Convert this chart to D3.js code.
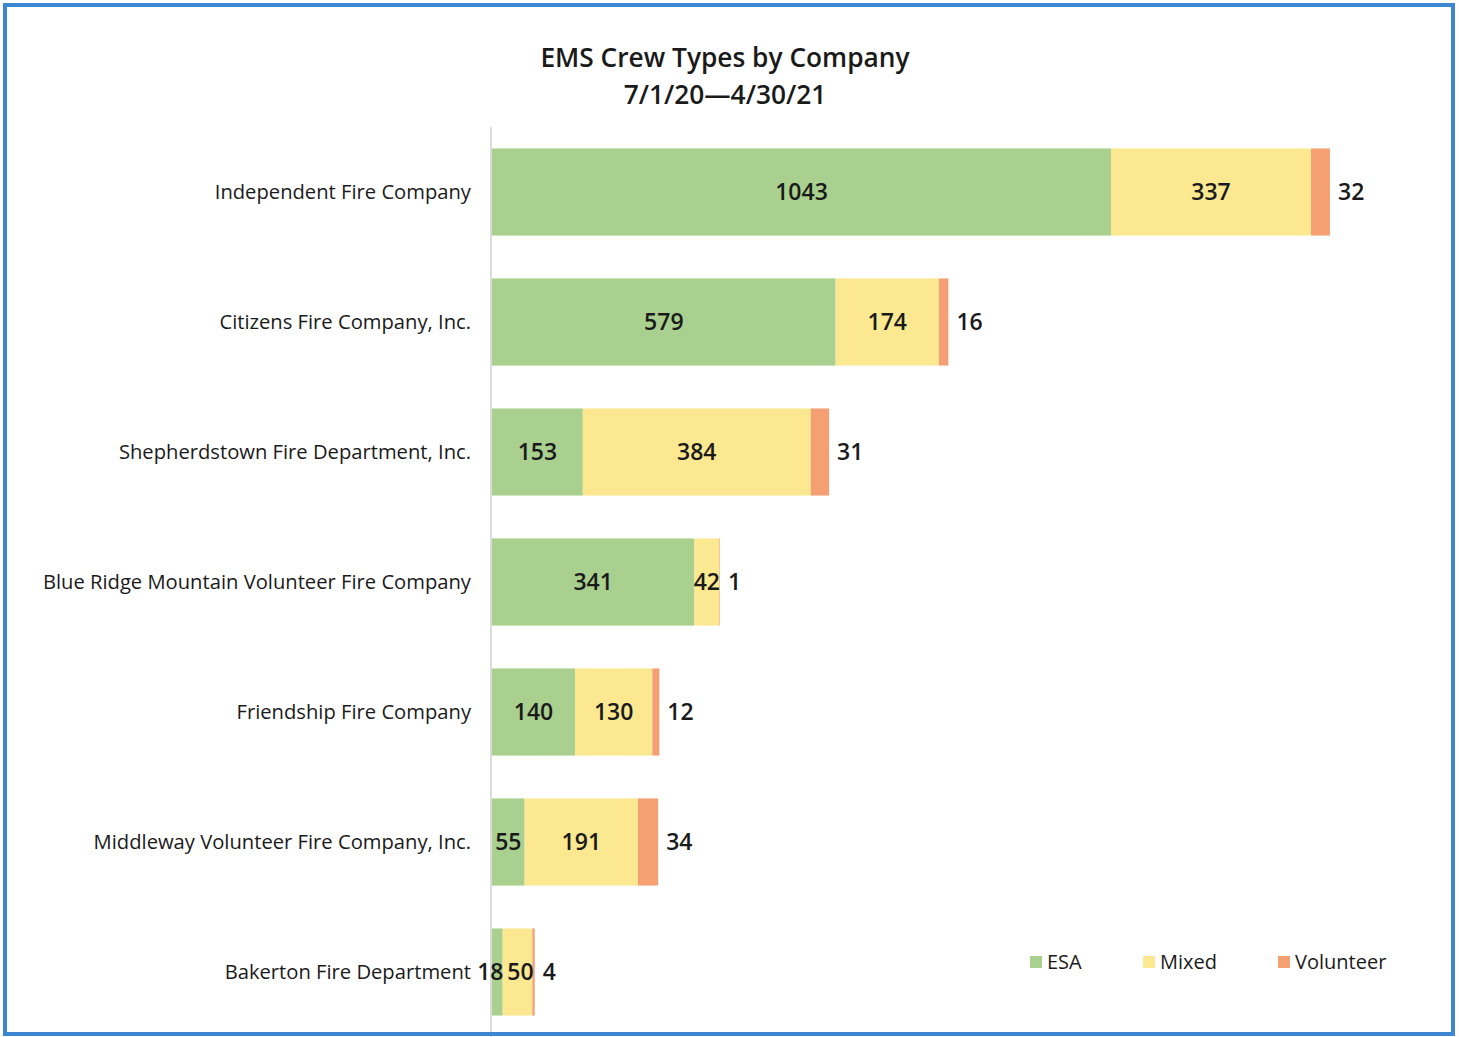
<!DOCTYPE html>
<html>
<head>
<meta charset="utf-8">
<script src="https://cdn.jsdelivr.net/npm/d3@7"></script>
<style>
  html, body { margin: 0; padding: 0; background: #fff; }
  svg { display: block; font-family: "Open Sans", "Noto Sans", sans-serif; }
</style>
</head>
<body>
<script>
// Data
const companies = [
  "Independent Fire Company",
  "Citizens Fire Company, Inc.",
  "Shepherdstown Fire Department, Inc.",
  "Blue Ridge Mountain Volunteer Fire Company",
  "Friendship Fire Company",
  "Middleway Volunteer Fire Company, Inc.",
  "Bakerton Fire Department"
];
const seriesNames = ["ESA", "Mixed", "Volunteer"];
const esa = [1043, 579, 153, 341, 140, 55, 18];
const mixed = [337, 174, 384, 42, 130, 191, 50];
const volunteer = [32, 16, 31, 1, 12, 34, 4];
const colors = ["#a9d08e", "#fbe890", "#f4a072"];

const width = 1459;
const height = 1037;

const rows = companies.map((c, i) => ({ company: c, ESA: esa[i], Mixed: mixed[i], Volunteer: volunteer[i] }));
const stacked = d3.stack().keys(seriesNames)(rows);

const x = d3.scaleLinear().domain([0, 1412]).range([492, 1330]);
const y = d3.scaleBand().domain(companies).range([127, 1037]).paddingInner(0.33).paddingOuter(0.165);
const color = d3.scaleOrdinal(seriesNames, colors);

const svg = d3.select("body").append("svg")
  .attr("width", width)
  .attr("height", height)
  .attr("viewBox", [0, 0, width, height]);

// Title
const title = svg.append("text")
  .attr("text-anchor", "middle")
  .attr("font-size", 26.3)
  .attr("font-weight", 600)
  .attr("fill", "#1a1a1a");
title.append("tspan").attr("x", 725).attr("y", 67).text("EMS Crew Types by Company");
title.append("tspan").attr("x", 725).attr("y", 104).text("7/1/20\u20144/30/21");

// Bars
const layer = svg.append("g")
  .selectAll("g")
  .data(stacked)
  .join("g")
  .attr("fill", d => color(d.key));

layer.selectAll("rect")
  .data(d => d)
  .join("rect")
  .attr("x", d => x(d[0]))
  .attr("y", d => y(d.data.company))
  .attr("width", d => x(d[1]) - x(d[0]))
  .attr("height", y.bandwidth());

// Vertical axis line
svg.append("line")
  .attr("x1", 491).attr("x2", 491)
  .attr("y1", 127).attr("y2", height)
  .attr("stroke", "#c4c4c4")
  .attr("stroke-width", 1.2);

// Category labels
svg.append("g")
  .selectAll("text")
  .data(companies)
  .join("text")
  .attr("x", 471)
  .attr("y", d => y(d) + y.bandwidth() / 2)
  .attr("dy", "0.35em")
  .attr("text-anchor", "end")
  .attr("font-size", 20.2)
  .attr("fill", "#1a1a1a")
  .text(d => d);

// Value labels: ESA and Mixed centred, Volunteer outside the bar end
const labels = svg.append("g")
  .attr("font-size", 23)
  .attr("font-weight", 600)
  .attr("fill", "#1a1a1a");

const tinyEsa = d => x(d.data.ESA) - x(0) < 15;

stacked.forEach(s => {
  labels.selectAll(null)
    .data(s)
    .join("text")
    .attr("x", d => {
      if (s.key === "Volunteer") return x(d[1]) + 8;
      const mid = (x(d[0]) + x(d[1])) / 2;
      // very thin ESA segment: nudge the pair apart so they do not collide
      if (tinyEsa(d)) return s.key === "ESA" ? mid - 7 : mid + 3;
      return mid;
    })
    .attr("y", d => y(d.data.company) + y.bandwidth() / 2)
    .attr("dy", "0.35em")
    .attr("text-anchor", s.key === "Volunteer" ? "start" : "middle")
    .text(d => d.data[s.key]);
});

// Legend
const legendX = [1030, 1143, 1278];
const legend = svg.append("g")
  .selectAll("g")
  .data(seriesNames)
  .join("g")
  .attr("transform", (d, i) => `translate(${legendX[i]},956)`);
legend.append("rect")
  .attr("width", 12).attr("height", 12)
  .attr("fill", d => color(d));
legend.append("text")
  .attr("x", 17).attr("y", 6)
  .attr("dy", "0.35em")
  .attr("font-size", 20)
  .attr("fill", "#1a1a1a")
  .text(d => d);

// Frame
svg.append("rect")
  .attr("x", 5).attr("y", 5)
  .attr("width", 1448).attr("height", 1029)
  .attr("fill", "none")
  .attr("stroke", "#3d87d2")
  .attr("stroke-width", 4);
</script>
</body>
</html>
